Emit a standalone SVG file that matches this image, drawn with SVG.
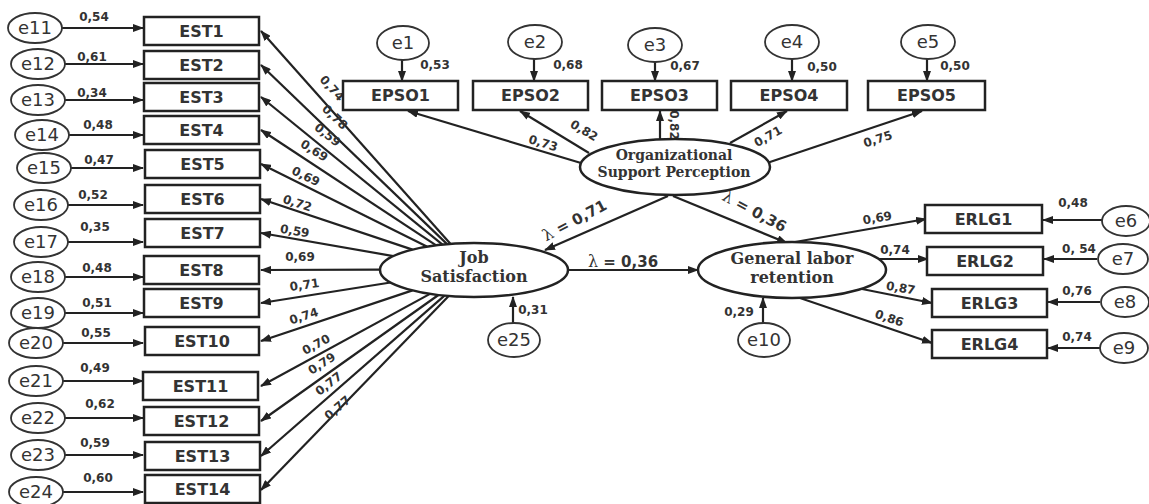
<svg xmlns="http://www.w3.org/2000/svg" width="1149" height="504" viewBox="0 0 1149 504">
<style>
.box{fill:#fff;stroke:#222;stroke-width:2.5}
.ell{fill:#fff;stroke:#333;stroke-width:1.8}
.lat{fill:#fff;stroke:#222;stroke-width:2.5}
.bt{font-family:"DejaVu Sans",sans-serif;font-weight:bold;font-size:16px;fill:#333;text-anchor:middle}
.et{font-family:"DejaVu Sans",sans-serif;font-size:18px;fill:#333;text-anchor:middle}
.nt{font-family:"DejaVu Sans",sans-serif;font-weight:bold;font-size:12px;fill:#333;text-anchor:middle}
.st{font-family:"DejaVu Serif",serif;font-weight:bold;fill:#333;text-anchor:middle}
.ln{stroke:#222;stroke-width:2.2;fill:none;marker-end:url(#ah)}
</style>
<defs>
<marker id="ah" markerWidth="11" markerHeight="8" refX="10" refY="4" orient="auto" markerUnits="userSpaceOnUse">
<path d="M0,0 L11,4 L0,8 z" fill="#222"/>
</marker>
</defs>
<rect width="1149" height="504" fill="#fff"/>

<g id="connectors">
<!-- JS to EST -->
<line class="ln" x1="450.6" y1="243.9" x2="261" y2="31"/>
<line class="ln" x1="447.1" y1="244.1" x2="261" y2="65"/>
<line class="ln" x1="442.5" y1="244.6" x2="261" y2="97"/>
<line class="ln" x1="436.2" y1="245.3" x2="261" y2="130"/>
<line class="ln" x1="426.8" y1="246.6" x2="261" y2="164"/>
<line class="ln" x1="412.5" y1="249.6" x2="261" y2="199"/>
<line class="ln" x1="393.4" y1="256.1" x2="261" y2="233"/>
<line class="ln" x1="380" y1="269.6" x2="261" y2="270"/>
<line class="ln" x1="390.6" y1="282.5" x2="261" y2="303"/>
<line class="ln" x1="412.5" y1="290.4" x2="261" y2="341"/>
<line class="ln" x1="430" y1="293.9" x2="261" y2="386"/>
<line class="ln" x1="438.4" y1="295" x2="261" y2="421"/>
<line class="ln" x1="444.5" y1="295.6" x2="261" y2="456"/>
<line class="ln" x1="448.7" y1="296" x2="261" y2="490"/>
<!-- e to EST -->
<line class="ln" x1="62" y1="28" x2="143" y2="28"/>
<line class="ln" x1="65" y1="64" x2="143" y2="64"/>
<line class="ln" x1="65" y1="100" x2="143" y2="100"/>
<line class="ln" x1="69" y1="135" x2="143" y2="135"/>
<line class="ln" x1="71" y1="168" x2="143" y2="168"/>
<line class="ln" x1="68" y1="205" x2="143" y2="205"/>
<line class="ln" x1="68" y1="242" x2="143" y2="242"/>
<line class="ln" x1="65" y1="277" x2="143" y2="277"/>
<line class="ln" x1="65" y1="313" x2="143" y2="313"/>
<line class="ln" x1="63" y1="343" x2="143" y2="343"/>
<line class="ln" x1="63" y1="381" x2="143" y2="381"/>
<line class="ln" x1="65" y1="418" x2="143" y2="418"/>
<line class="ln" x1="65" y1="455" x2="143" y2="455"/>
<line class="ln" x1="63" y1="492" x2="143" y2="492"/>
<!-- e to EPSO -->
<line class="ln" x1="402" y1="60" x2="402" y2="81"/>
<line class="ln" x1="534" y1="59" x2="534" y2="81"/>
<line class="ln" x1="655" y1="62" x2="655" y2="81"/>
<line class="ln" x1="792" y1="59" x2="792" y2="81"/>
<line class="ln" x1="927" y1="59" x2="927" y2="81"/>
<!-- OSP to EPSO -->
<line class="ln" x1="581" y1="163" x2="408" y2="111"/>
<line class="ln" x1="589" y1="153" x2="520" y2="111"/>
<line class="ln" x1="660" y1="139" x2="660" y2="111"/>
<line class="ln" x1="730" y1="143" x2="787" y2="111"/>
<line class="ln" x1="767" y1="163" x2="922" y2="111"/>
<!-- structural -->
<line class="ln" x1="668" y1="196" x2="545" y2="250"/>
<line class="ln" x1="673" y1="196" x2="787" y2="243"/>
<line class="ln" x1="568" y1="270" x2="698" y2="270"/>
<line class="ln" x1="513" y1="323" x2="513" y2="297"/>
<line class="ln" x1="763" y1="323" x2="763" y2="298"/>
<!-- GLR to ERLG -->
<line class="ln" x1="795" y1="242" x2="926" y2="219"/>
<line class="ln" x1="878" y1="259" x2="928" y2="259"/>
<line class="ln" x1="862" y1="289" x2="932" y2="303"/>
<line class="ln" x1="800" y1="298" x2="932" y2="343"/>
<!-- e to ERLG -->
<line class="ln" x1="1102" y1="220" x2="1043" y2="220"/>
<line class="ln" x1="1097" y1="259" x2="1044" y2="259"/>
<line class="ln" x1="1100" y1="302" x2="1048" y2="302"/>
<line class="ln" x1="1100" y1="348" x2="1048" y2="348"/>
</g>

<g id="connector-labels">
<text class="nt" transform="translate(329,91) rotate(48)">0,74</text>
<text class="nt" transform="translate(332,120) rotate(44)">0,78</text>
<text class="nt" transform="translate(325,138) rotate(39)">0,59</text>
<text class="nt" transform="translate(312,154) rotate(33)">0,69</text>
<text class="nt" transform="translate(304,180) rotate(26)">0,69</text>
<text class="nt" transform="translate(296,207) rotate(18)">0,72</text>
<text class="nt" transform="translate(294,235) rotate(10)">0,59</text>
<text class="nt" transform="translate(300,261)">0,69</text>
<text class="nt" transform="translate(305,289) rotate(-8)">0,71</text>
<text class="nt" transform="translate(305,320) rotate(-18)">0,74</text>
<text class="nt" transform="translate(318,348) rotate(-28)">0,70</text>
<text class="nt" transform="translate(324,367) rotate(-33)">0,79</text>
<text class="nt" transform="translate(331,387) rotate(-37)">0,77</text>
<text class="nt" transform="translate(340,411) rotate(-40)">0,77</text>

<text class="nt" x="94" y="21">0,54</text>
<text class="nt" x="92" y="61">0,61</text>
<text class="nt" x="92" y="97">0,34</text>
<text class="nt" x="98" y="129">0,48</text>
<text class="nt" x="99" y="164">0,47</text>
<text class="nt" x="93" y="199">0,52</text>
<text class="nt" x="95" y="231">0,35</text>
<text class="nt" x="97" y="272">0,48</text>
<text class="nt" x="97" y="307">0,51</text>
<text class="nt" x="96" y="337">0,55</text>
<text class="nt" x="95" y="372">0,49</text>
<text class="nt" x="100" y="408">0,62</text>
<text class="nt" x="95" y="447">0,59</text>
<text class="nt" x="98" y="482">0,60</text>

<text class="nt" x="435" y="69">0,53</text>
<text class="nt" x="568" y="69">0,68</text>
<text class="nt" x="685" y="70">0,67</text>
<text class="nt" x="822" y="71">0,50</text>
<text class="nt" x="955" y="70">0,50</text>

<text class="nt" transform="translate(542,147) rotate(17)">0,73</text>
<text class="nt" transform="translate(582,134) rotate(31)">0,82</text>
<text class="nt" transform="translate(670,125) rotate(90)">0,82</text>
<text class="nt" transform="translate(770,140) rotate(-29)">0,71</text>
<text class="nt" transform="translate(879,143) rotate(-18)">0,75</text>

<text transform="translate(577,225) rotate(-28)" text-anchor="middle" fill="#333"><tspan font-family="DejaVu Serif,serif" font-size="16">λ</tspan><tspan font-family="DejaVu Sans,sans-serif" font-size="15" font-weight="bold"> = 0,71</tspan></text>
<text transform="translate(752,216) rotate(28)" text-anchor="middle" fill="#333"><tspan font-family="DejaVu Serif,serif" font-size="16">λ</tspan><tspan font-family="DejaVu Sans,sans-serif" font-size="15" font-weight="bold"> = 0,36</tspan></text>
<text x="623" y="267" text-anchor="middle" fill="#333"><tspan font-family="DejaVu Serif,serif" font-size="16">λ</tspan><tspan font-family="DejaVu Sans,sans-serif" font-size="15" font-weight="bold"> = 0,36</tspan></text>

<text class="nt" x="533" y="314">0,31</text>
<text class="nt" x="739" y="316">0,29</text>

<text class="nt" transform="translate(878,222) rotate(-10)">0,69</text>
<text class="nt" x="895" y="254">0,74</text>
<text class="nt" transform="translate(900,292) rotate(10)">0,87</text>
<text class="nt" transform="translate(888,322) rotate(19)">0,86</text>

<text class="nt" x="1073" y="207">0,48</text>
<text class="nt" x="1079" y="253">0, 54</text>
<text class="nt" x="1077" y="295">0,76</text>
<text class="nt" x="1077" y="341">0,74</text>
</g>

<g id="EST1"><rect class="box" x="144" y="17" width="115" height="28"/><text class="bt" x="201.5" y="37">EST1</text></g>
<g id="EST2"><rect class="box" x="144" y="51" width="115" height="28"/><text class="bt" x="201.5" y="71">EST2</text></g>
<g id="EST3"><rect class="box" x="144" y="83" width="115" height="28"/><text class="bt" x="201.5" y="103">EST3</text></g>
<g id="EST4"><rect class="box" x="144" y="116" width="115" height="28"/><text class="bt" x="201.5" y="136">EST4</text></g>
<g id="EST5"><rect class="box" x="145" y="150" width="115" height="28"/><text class="bt" x="202.5" y="170">EST5</text></g>
<g id="EST6"><rect class="box" x="145" y="185" width="115" height="28"/><text class="bt" x="202.5" y="205">EST6</text></g>
<g id="EST7"><rect class="box" x="145" y="219" width="115" height="28"/><text class="bt" x="202.5" y="239">EST7</text></g>
<g id="EST8"><rect class="box" x="144" y="256" width="115" height="28"/><text class="bt" x="201.5" y="276">EST8</text></g>
<g id="EST9"><rect class="box" x="144" y="289" width="115" height="28"/><text class="bt" x="201.5" y="309">EST9</text></g>
<g id="EST10"><rect class="box" x="145" y="327" width="114" height="28"/><text class="bt" x="202" y="347">EST10</text></g>
<g id="EST11"><rect class="box" x="143" y="372" width="115" height="28"/><text class="bt" x="200.5" y="392">EST11</text></g>
<g id="EST12"><rect class="box" x="144" y="407" width="115" height="28"/><text class="bt" x="201.5" y="427">EST12</text></g>
<g id="EST13"><rect class="box" x="145" y="442" width="115" height="28"/><text class="bt" x="202.5" y="462">EST13</text></g>
<g id="EST14"><rect class="box" x="145" y="475" width="115" height="28"/><text class="bt" x="202.5" y="495">EST14</text></g>

<g id="e11"><ellipse class="ell" cx="35" cy="28" rx="27" ry="15"/><text class="et" x="35" y="34">e11</text></g>
<g id="e12"><ellipse class="ell" cx="38" cy="64" rx="27" ry="15"/><text class="et" x="38" y="70">e12</text></g>
<g id="e13"><ellipse class="ell" cx="38" cy="100" rx="27" ry="15"/><text class="et" x="38" y="106">e13</text></g>
<g id="e14"><ellipse class="ell" cx="42" cy="135" rx="27" ry="15"/><text class="et" x="42" y="141">e14</text></g>
<g id="e15"><ellipse class="ell" cx="44" cy="168" rx="27" ry="15"/><text class="et" x="44" y="174">e15</text></g>
<g id="e16"><ellipse class="ell" cx="41" cy="205" rx="27" ry="15"/><text class="et" x="41" y="211">e16</text></g>
<g id="e17"><ellipse class="ell" cx="41" cy="242" rx="27" ry="15"/><text class="et" x="41" y="248">e17</text></g>
<g id="e18"><ellipse class="ell" cx="38" cy="277" rx="27" ry="15"/><text class="et" x="38" y="283">e18</text></g>
<g id="e19"><ellipse class="ell" cx="38" cy="313" rx="27" ry="15"/><text class="et" x="38" y="319">e19</text></g>
<g id="e20"><ellipse class="ell" cx="36" cy="343" rx="27" ry="15"/><text class="et" x="36" y="349">e20</text></g>
<g id="e21"><ellipse class="ell" cx="36" cy="381" rx="27" ry="15"/><text class="et" x="36" y="387">e21</text></g>
<g id="e22"><ellipse class="ell" cx="38" cy="418" rx="27" ry="15"/><text class="et" x="38" y="424">e22</text></g>
<g id="e23"><ellipse class="ell" cx="38" cy="455" rx="27" ry="15"/><text class="et" x="38" y="461">e23</text></g>
<g id="e24"><ellipse class="ell" cx="36" cy="492" rx="27" ry="15"/><text class="et" x="36" y="498">e24</text></g>

<g id="EPSO1"><rect class="box" x="343" y="81" width="115" height="29"/><text class="bt" x="400.5" y="101">EPSO1</text></g>
<g id="EPSO2"><rect class="box" x="473" y="81" width="115" height="29"/><text class="bt" x="530.5" y="101">EPSO2</text></g>
<g id="EPSO3"><rect class="box" x="602" y="81" width="115" height="29"/><text class="bt" x="659.5" y="101">EPSO3</text></g>
<g id="EPSO4"><rect class="box" x="731" y="81" width="116" height="29"/><text class="bt" x="789" y="101">EPSO4</text></g>
<g id="EPSO5"><rect class="box" x="868" y="81" width="117" height="29"/><text class="bt" x="926.5" y="101">EPSO5</text></g>

<g id="e1"><ellipse class="ell" cx="403" cy="43" rx="26" ry="17"/><text class="et" x="403" y="49">e1</text></g>
<g id="e2"><ellipse class="ell" cx="535" cy="42" rx="27" ry="17"/><text class="et" x="535" y="48">e2</text></g>
<g id="e3"><ellipse class="ell" cx="655" cy="45" rx="27" ry="17"/><text class="et" x="655" y="51">e3</text></g>
<g id="e4"><ellipse class="ell" cx="792" cy="42" rx="27" ry="17"/><text class="et" x="792" y="48">e4</text></g>
<g id="e5"><ellipse class="ell" cx="928" cy="42" rx="27" ry="17"/><text class="et" x="928" y="48">e5</text></g>

<g id="OSP"><ellipse class="lat" cx="675" cy="167" rx="95" ry="28"/><text class="st" x="674" y="160" font-size="14">Organizational</text><text class="st" x="674" y="177" font-size="14">Support Perception</text></g>
<g id="JS"><ellipse class="lat" cx="474" cy="270" rx="94" ry="27"/><text class="st" x="474" y="263" font-size="16">Job</text><text class="st" x="474" y="282" font-size="16">Satisfaction</text></g>
<g id="GLR"><ellipse class="lat" cx="792" cy="270" rx="94" ry="28"/><text class="st" x="792" y="264" font-size="16">General labor</text><text class="st" x="792" y="283" font-size="16">retention</text></g>

<g id="e25"><ellipse class="ell" cx="514" cy="340" rx="26" ry="17"/><text class="et" x="514" y="346">e25</text></g>
<g id="e10"><ellipse class="ell" cx="764" cy="340" rx="26" ry="17"/><text class="et" x="764" y="346">e10</text></g>

<g id="ERLG1"><rect class="box" x="925" y="205" width="117" height="28"/><text class="bt" x="983.5" y="225">ERLG1</text></g>
<g id="ERLG2"><rect class="box" x="927" y="247" width="116" height="28"/><text class="bt" x="985" y="267">ERLG2</text></g>
<g id="ERLG3"><rect class="box" x="932" y="289" width="115" height="28"/><text class="bt" x="989.5" y="309">ERLG3</text></g>
<g id="ERLG4"><rect class="box" x="932" y="330" width="115" height="28"/><text class="bt" x="989.5" y="350">ERLG4</text></g>

<g id="e6"><ellipse class="ell" cx="1126" cy="221" rx="24" ry="15"/><text class="et" x="1126" y="227">e6</text></g>
<g id="e7"><ellipse class="ell" cx="1123" cy="259" rx="25" ry="15"/><text class="et" x="1123" y="265">e7</text></g>
<g id="e8"><ellipse class="ell" cx="1125" cy="302" rx="24" ry="15"/><text class="et" x="1125" y="308">e8</text></g>
<g id="e9"><ellipse class="ell" cx="1124" cy="348" rx="24" ry="15"/><text class="et" x="1124" y="354">e9</text></g>
</svg>
